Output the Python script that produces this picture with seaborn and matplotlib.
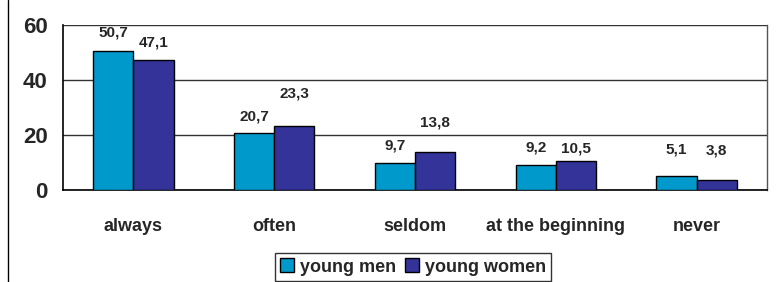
import matplotlib
matplotlib.use("Agg")
import matplotlib.pyplot as plt
import matplotlib.lines as mlines
import seaborn as sns
import pandas as pd

categories = ["always", "often", "seldom", "at the beginning", "never"]
young_men = [50.7, 20.7, 9.7, 9.2, 5.1]
young_women = [47.1, 23.3, 13.8, 10.5, 3.8]
series_names = ["young men", "young women"]
y_ticks = [0, 20, 40, 60]

# label offsets (points above bar top), mimicking the original label placement
label_pad = [[8, 7, 8, 7, 14], [8, 18, 16, 4, 16]]

df = pd.DataFrame({
    "category": categories * 2,
    "value": young_men + young_women,
    "series": [series_names[0]] * len(categories) + [series_names[1]] * len(categories),
})

sns.set_style("white")
plt.rcParams["font.family"] = ["Liberation Sans", "DejaVu Sans"]
plt.rcParams["font.weight"] = "bold"

fig = plt.figure(figsize=(7.77, 2.82), dpi=100)
ax = fig.add_axes([63/777, 1 - 190/282, (767 - 63)/777, (190 - 25)/282])

palette = {"young men": "#0099CC", "young women": "#333399"}
sns.barplot(data=df, x="category", y="value", hue="series", order=categories,
            hue_order=series_names, palette=palette, width=0.57,
            edgecolor="black", linewidth=1, saturation=1, ax=ax, legend=True, zorder=3)

ax.set_ylim(0, 60)
ax.set_xlim(-0.5, len(categories) - 0.5)
ax.set_yticks(y_ticks)
ax.set_yticklabels([str(t) for t in y_ticks], fontsize=16, fontweight="bold")
ax.yaxis.grid(True, color="#333333", linewidth=1, zorder=0)
ax.set_axisbelow(True)

ax.set_xticks(range(len(categories)))
ax.set_xticklabels(categories, fontsize=13, fontweight="bold")
ax.tick_params(axis="x", which="major", length=0, pad=20)
ax.set_xticks([i - 0.5 for i in range(len(categories) + 1)], minor=True)
ax.tick_params(axis="x", which="minor", length=5, direction="out", color="#333333", width=1)
ax.tick_params(axis="y", length=5, direction="out", color="black", width=1, pad=6)

ax.set_xlabel("")
ax.set_ylabel("")
for side in ["left", "bottom"]:
    ax.spines[side].set_color("black")
    ax.spines[side].set_linewidth(1.2)
ax.spines["right"].set_color("#555555")
ax.spines["right"].set_linewidth(1)
ax.spines["top"].set_visible(False)

for si, cont in enumerate(ax.containers):
    for bi, (patch, v) in enumerate(zip(cont.patches, cont.datavalues)):
        ax.annotate(f"{v:.1f}".replace(".", ","),
                    (patch.get_x() + patch.get_width() / 2, patch.get_height()),
                    xytext=(0, label_pad[si][bi]), textcoords="offset points",
                    ha="center", va="bottom", fontsize=11, fontweight="bold")

leg = ax.legend(loc="upper center", bbox_to_anchor=(413/777, 1 - 253/282), bbox_transform=fig.transFigure,
                ncol=2, frameon=True, fancybox=False, edgecolor="black",
                handlelength=0.8, handleheight=0.8, handletextpad=0.3, columnspacing=0.5,
                borderpad=0.3, borderaxespad=0, prop={"weight": "bold", "size": 13})
leg.get_frame().set_linewidth(1)

fig.add_artist(mlines.Line2D([8/777, 8/777], [0, 1], transform=fig.transFigure,
                             color="black", linewidth=1))

fig.savefig("out.png", dpi=100)
